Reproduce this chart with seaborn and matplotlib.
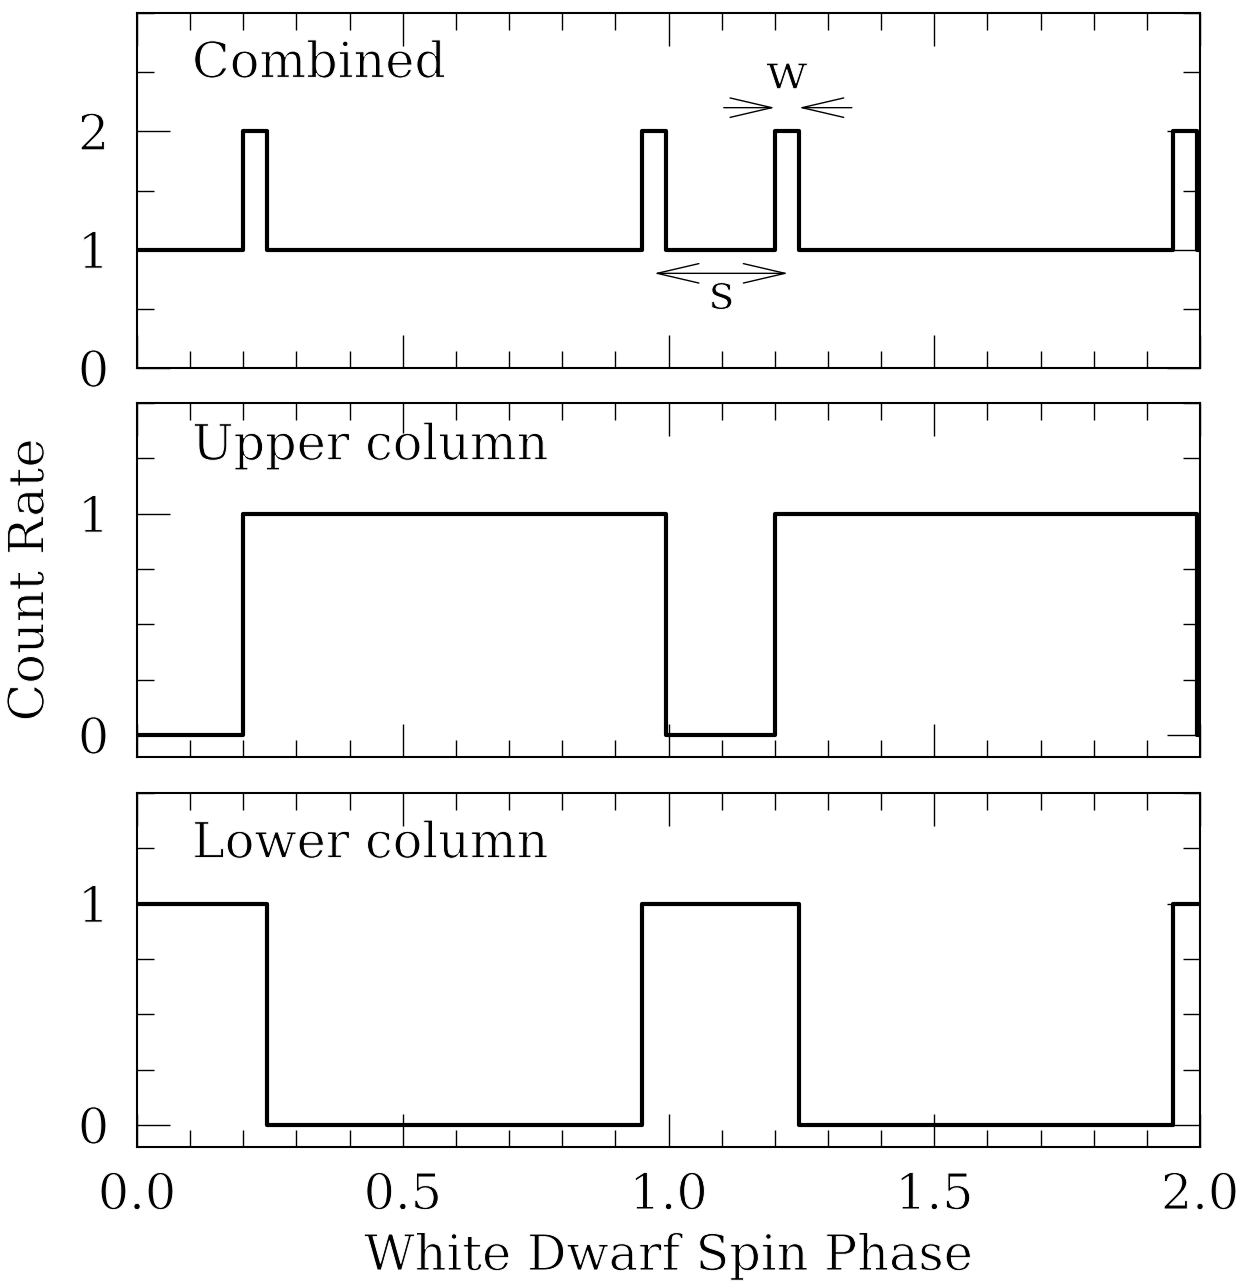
import matplotlib
matplotlib.use("Agg")
import matplotlib.pyplot as plt
import matplotlib.patheffects as pe
from matplotlib.ticker import MultipleLocator, FixedLocator
import seaborn as sns
import numpy as np

# ---- data ----
phase_edges = [0.0, 0.2, 0.245, 0.95, 0.995, 1.2, 1.245, 1.95, 1.995, 2.0]
combined = [1, 2, 1, 2, 1, 2, 1, 2, 1, 1]
upper = [0, 1, 1, 1, 0, 1, 1, 1, 0, 0]
lower = [1, 1, 0, 1, 1, 1, 0, 1, 1, 1]
panel_titles = ["Combined", "Upper column", "Lower column"]
xticks = [0.0, 0.5, 1.0, 1.5, 2.0]
xtick_labels = ["0.0", "0.5", "1.0", "1.5", "2.0"]
yticks = [[0, 1, 2], [0, 1], [0, 1]]

sns.set_theme(style="white")
FONT = "DejaVu Serif"
plt.rcParams["font.family"] = [FONT, "DejaVu Sans"]
plt.rcParams["text.color"] = "black"
plt.rcParams["axes.labelcolor"] = "black"
plt.rcParams["xtick.color"] = "black"
plt.rcParams["ytick.color"] = "black"
FS = 35.5
thin = [pe.Stroke(linewidth=0.7, foreground="white")]

W, H = 1244, 1284
fig = plt.figure(figsize=(W / 100, H / 100), dpi=100)
fig.patch.set_facecolor("white")

left, right = 137, 1200
panels_px = [(13, 368), (403, 757), (793, 1147)]
ylims = [(0, 3), (-0.1, 1.5), (-0.1, 1.5)]
yminor = [0.5, 0.25, 0.25]
series = [combined, upper, lower]
title_y = [2.456, 1.244, 1.208]

axes = []
for i, ((top, bot), yl, ym, ys, title) in enumerate(zip(panels_px, ylims, yminor, series, panel_titles)):
    ax = fig.add_axes([left / W, 1 - bot / H, (right - left) / W, (bot - top) / H])
    axes.append(ax)
    sns.lineplot(x=phase_edges, y=ys, drawstyle="steps-post", sort=False,
                 color="black", linewidth=3.0, ax=ax)
    ax.set_xlim(0, 2)
    ax.set_ylim(*yl)
    ax.xaxis.set_major_locator(MultipleLocator(0.5))
    ax.xaxis.set_minor_locator(MultipleLocator(0.1))
    ax.yaxis.set_major_locator(FixedLocator(yticks[i]))
    ax.yaxis.set_minor_locator(MultipleLocator(ym))
    ax.tick_params(which="both", direction="in", top=True, right=True,
                   bottom=True, left=True, width=1.0, color="black")
    ax.tick_params(which="major", length=24)
    ax.tick_params(which="minor", length=12)
    ax.tick_params(axis="y", which="major", pad=20, labelsize=FS)
    ax.tick_params(axis="x", which="major", pad=18, labelsize=FS)
    for sp in ax.spines.values():
        sp.set_linewidth(1.5)
        sp.set_color("black")
    ax.set_xlabel("")
    ax.set_ylabel("")
    ax.set_yticklabels([str(v) for v in yticks[i]])
    if i < 2:
        ax.set_xticklabels([])
    else:
        ax.set_xticks(xticks)
        ax.set_xticklabels(xtick_labels)
    for lab in ax.get_xticklabels() + ax.get_yticklabels():
        lab.set_fontfamily(FONT)
        lab.set_color("black")
        lab.set_path_effects(thin)
    t = ax.text(0.1035, title_y[i], title, fontsize=FS, family=FONT,
                ha="left", va="baseline", color="black")
    t.set_path_effects(thin)

ax1 = axes[0]
# w arrows
ap = dict(arrowstyle="->,head_length=30,head_width=7", lw=1.0, color="black",
          shrinkA=0, shrinkB=0, mutation_scale=1)
ax1.annotate("", xy=(1.2, 2.2), xytext=(1.104, 2.2), arrowprops=ap)
ax1.annotate("", xy=(1.2455, 2.2), xytext=(1.345, 2.2), arrowprops=ap)
t = ax1.text(1.2225, 2.36, "w", fontsize=FS, family=FONT, ha="center",
             va="baseline", color="black")
t.set_path_effects(thin)
# s arrow
ap2 = dict(ap, arrowstyle="<->,head_length=30,head_width=7")
ax1.annotate("", xy=(1.225, 0.80), xytext=(0.973, 0.80), arrowprops=ap2)
t = ax1.text(1.1, 0.5, "s", fontsize=FS, family=FONT, ha="center",
             va="baseline", color="black")
t.set_path_effects(thin)

t = fig.text(30 / W, 1 - 580 / H, "Count Rate", fontsize=FS, family=FONT,
             rotation=90, ha="center", va="center", color="black")
t.set_path_effects(thin)
t = fig.text(668 / W, 1 - 1270 / H, "White Dwarf Spin Phase", fontsize=FS, family=FONT,
             ha="center", va="baseline", color="black")
t.set_path_effects(thin)

fig.savefig("out.png", dpi=100, facecolor="white")
